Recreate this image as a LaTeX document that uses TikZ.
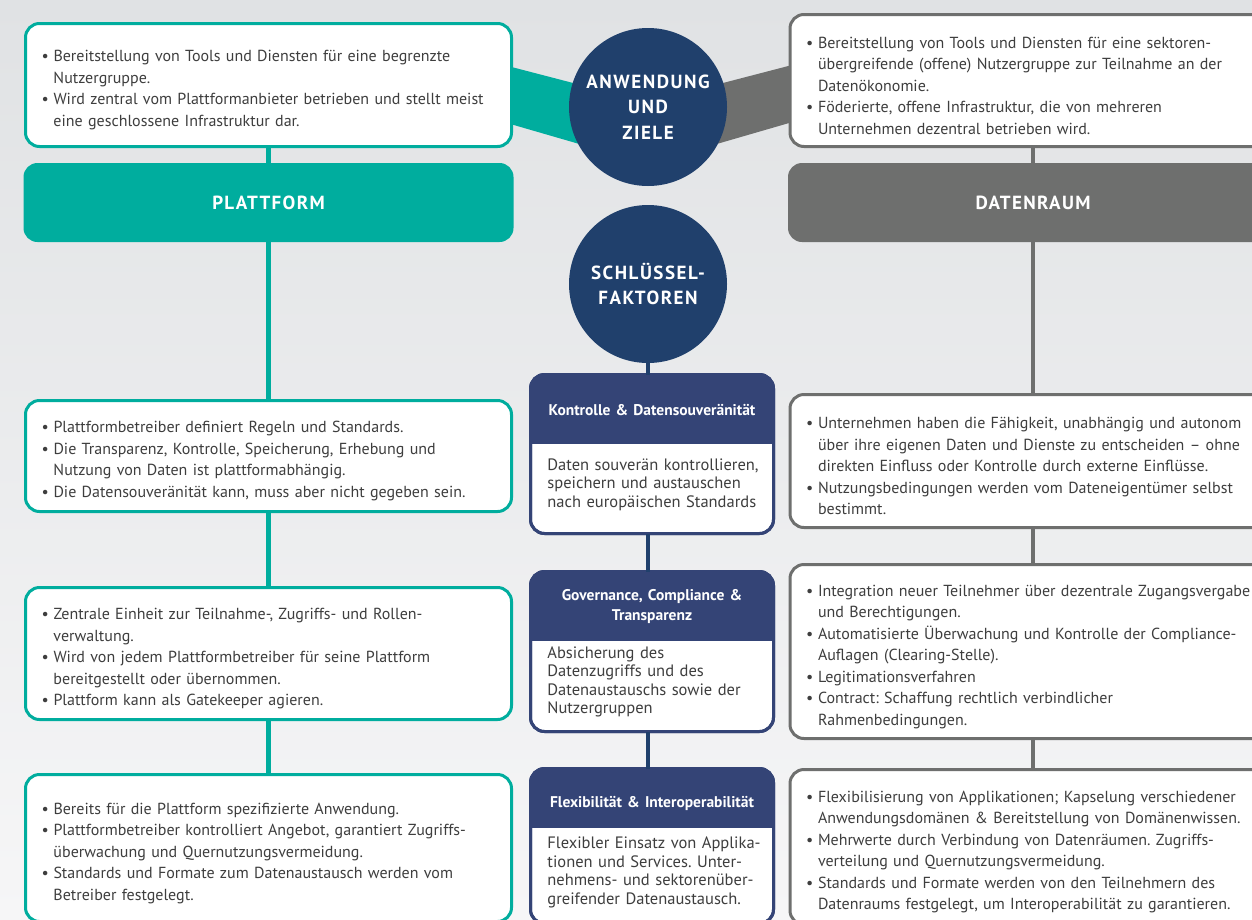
\documentclass[tikz,border=0pt]{standalone}
\usepackage{fontspec}
\setmainfont{PT Sans}
\usepackage{tikz}
\usetikzlibrary{positioning,calc,backgrounds}
\definecolor{myteal}{RGB}{0,173,158}
\definecolor{mygray}{RGB}{110,111,110}
\definecolor{mynavy}{RGB}{32,64,108}
\definecolor{myblue}{RGB}{52,68,118}
\definecolor{mytext}{RGB}{62,62,62}
\definecolor{mybgtop}{RGB}{224,226,228}
\definecolor{mybgbot}{RGB}{246,246,247}

\frenchspacing
\newcommand{\bpunkt}{\par\noindent\hangindent=12pt\hangafter=1\rightskip=-40pt plus 1fil\makebox[12pt][l]{\textbullet}}

\begin{document}
\begin{tikzpicture}[
  x=1pt, y=-1pt,
  thick,
  pbox/.style={
    draw=myteal,
    line width=3pt,
    fill=white,
    rounded corners=14pt,
    text width=454pt,
    inner xsep=16pt,
    inner ysep=0pt,
    align=left,
    text=mytext,
    font=\fontsize{16}{21.5}\selectfont
    },
  dbox/.style={pbox, draw=mygray},
  banner/.style={
    fill=#1,
    rounded corners=14pt,
    minimum width=490pt,
    minimum height=79pt,
    text=white,
    font=\bfseries\fontsize{19}{22}\selectfont\addfontfeature{LetterSpace=7}
    },
  kreis/.style={
    circle,
    fill=mynavy,
    minimum size=158pt,
    inner sep=0pt,
    text=white,
    align=center,
    font=\bfseries\fontsize{19}{25.5}\selectfont\addfontfeature{LetterSpace=8}
    },
  kbox/.style={
    draw=myblue,
    line width=3pt,
    fill=white,
    rounded corners=14pt,
    minimum width=243pt,
    outer sep=0pt
    },
  khead/.style={
    text=white,
    inner sep=0pt,
    align=center,
    text width=236pt,
    font=\bfseries\fontsize{15.5}{19.5}\selectfont
    },
  ktext/.style={
    anchor=west,
    text=mytext,
    inner sep=0pt,
    align=left,
    text width=224pt,
    font=\fontsize{16.5}{18.5}\selectfont
    },
  tline/.style={draw=myteal, line width=4.5pt},
  gline/.style={draw=mygray, line width=4.5pt},
  nline/.style={draw=mynavy, line width=4.5pt}
]
\useasboundingbox (0,0) rectangle (1252,919);

% Anwendung und Ziele
\node[kreis] (c1) at (648,107) {ANWENDUNG\\UND\\ZIELE};
\node[kreis] (c2) at (648,284) {SCHLÜSSEL-\\FAKTOREN};

% Plattform
\node[pbox, minimum height=123pt] (l1) at (268.5,85) {
  \bpunkt Bereitstellung von Tools und Diensten für eine begrenzte\newline Nutzergruppe.
  \bpunkt Wird zentral vom Plattformanbieter betrieben und stellt meist\newline eine geschlossene Infrastruktur dar.\par};
\node[banner=myteal] (pl) at (268.5,202.5) {PLATTFORM};
\node[pbox, minimum height=111pt] (l2) at (268.5,456) {
  \bpunkt Plattformbetreiber definiert Regeln und Standards.
  \bpunkt Die Transparenz, Kontrolle, Speicherung, Erhebung und\newline Nutzung von Daten ist plattformabhängig.
  \bpunkt Die Datensouveränität kann, muss aber nicht gegeben sein.\par};
\node[pbox, minimum height=132pt] (l3) at (268.5,653.5) {
  \bpunkt Zentrale Einheit zur Teilnahme-, Zugriffs- und Rollen-\newline verwaltung.
  \bpunkt Wird von jedem Plattformbetreiber für seine Plattform\newline bereitgestellt oder übernommen.
  \bpunkt Plattform kann als Gatekeeper agieren.\par};
\node[pbox, minimum height=147pt] (l4) at (268.5,848) {
  \bpunkt Bereits für die Plattform spezifizierte Anwendung.
  \bpunkt Plattformbetreiber kontrolliert Angebot, garantiert Zugriffs-\newline überwachung und Quernutzungsvermeidung.
  \bpunkt Standards und Formate zum Datenaustausch werden vom\newline Betreiber festgelegt.\par};

% Datenraum
\node[dbox, minimum height=132pt] (r1) at (1033,80.5) {
  \bpunkt Bereitstellung von Tools und Diensten für eine sektoren-\newline übergreifende (offene) Nutzergruppe zur Teilnahme an der\newline Datenökonomie.
  \bpunkt Föderierte, offene Infrastruktur, die von mehreren\newline Unternehmen dezentral betrieben wird.\par};
\node[banner=mygray] (dr) at (1033,202.5) {DATENRAUM};
\node[dbox, minimum height=133pt] (r2) at (1033,461) {
  \bpunkt Unternehmen haben die Fähigkeit, unabhängig und autonom\newline über ihre eigenen Daten und Dienste zu entscheiden -- ohne\newline direkten Einfluss oder Kontrolle durch externe Einflüsse.
  \bpunkt Nutzungsbedingungen werden vom Dateneigentümer selbst\newline bestimmt.\par};
\node[dbox, minimum height=174pt] (r3) at (1033,651.5) {
  \bpunkt Integration neuer Teilnehmer über dezentrale Zugangsvergabe\newline und Berechtigungen.
  \bpunkt Automatisierte Überwachung und Kontrolle der Compliance-\newline Auflagen (Clearing-Stelle).
  \bpunkt Legitimationsverfahren
  \bpunkt Contract: Schaffung rechtlich verbindlicher\newline Rahmenbedingungen.\par};
\node[dbox, minimum height=155pt] (r4) at (1033,847) {
  \bpunkt Flexibilisierung von Applikationen; Kapselung verschiedener\newline Anwendungsdomänen \& Bereitstellung von Domänenwissen.
  \bpunkt Mehrwerte durch Verbindung von Datenräumen. Zugriffs-\newline verteilung und Quernutzungsvermeidung.
  \bpunkt Standards und Formate werden von den Teilnehmern des\newline Datenraums festgelegt, um Interoperabilität zu garantieren.\par};

% Schluesselfaktoren
\foreach \k/\ym/\h/\yk in {k1/454/159/443, k2/651.5/160/640, k3/846/155/827} {
  \node[kbox, minimum height=\h pt] (\k) at (652,\ym) {};
  \begin{scope}
    \clip (\k.north west) rectangle (\k.east |- 0,\yk);
    \fill[myblue, rounded corners=14pt] (\k.north west) rectangle (\k.south east);
  \end{scope}
  \draw[myblue, line width=3pt, rounded corners=14pt] (\k.north west) rectangle (\k.south east);
}
\node[khead] (k1h) at (652,410) {Kontrolle \& Datensouveränität};
\node[ktext] (k1t) at (547,484.5) {Daten souverän kontrollieren,\\ speichern und austauschen\\ nach europäischen Standards};
\node[khead] (k2h) at (652,606.5) {Governance, Compliance \&\\ Transparenz};
\node[ktext] (k2t) at (547,682) {Absicherung des\\ Datenzugriffs und des\\ Datenaustauschs sowie der\\ Nutzergruppen};
\node[khead] (k3h) at (652,803) {Flexibilität \& Interoperabilität};
\node[ktext] (k3t) at (547,872.5) {Flexibler Einsatz von Applika-\\ tionen und Services. Unter-\\ nehmens- und sektorenüber-\\ greifender Datenaustausch.};

% Verbindungen
\draw[tline] (l1.south) -- (pl.north);
\draw[tline] (pl.south) -- (l2.north);
\draw[tline] (l2.south) -- (l3.north);
\draw[tline] (l3.south) -- (l4.north);
\draw[gline] (r1.south) -- (dr.north);
\draw[gline] (dr.south) -- (r2.north);
\draw[gline] (r2.south) -- (r3.north);
\draw[gline] (r3.south) -- (r4.north);
\draw[nline] (c2.south) -- (c2.south |- k1.north);
\draw[nline] (k1.south -| c2.south) -- (k2.north -| c2.south);
\draw[nline] (k2.south -| c2.south) -- (k3.north -| c2.south);

\begin{scope}[on background layer]
  \shade[top color=mybgtop, bottom color=mybgbot] (0,0) rectangle (1252,919);
  \fill[myteal] ($(c1)+(-148,-43)$) -- ($(c1)+(-48,-17)$) -- ($(c1)+(-48,43)$) -- ($(c1)+(-148,14)$) -- cycle;
  \fill[mygray] ($(c1)+(148,-43)$) -- ($(c1)+(48,-17)$) -- ($(c1)+(48,43)$) -- ($(c1)+(148,14)$) -- cycle;
\end{scope}
\end{tikzpicture}
\end{document}
